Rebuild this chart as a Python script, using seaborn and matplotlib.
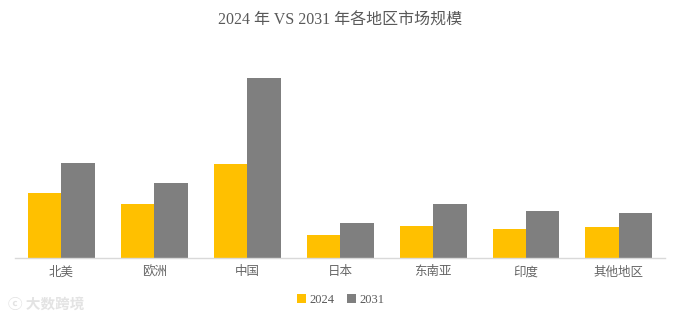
import matplotlib
matplotlib.use("Agg")
import matplotlib.pyplot as plt
import seaborn as sns
import pandas as pd
from matplotlib.patches import Patch

# Regional market size, 2024 vs 2031
regions = ["北美", "欧洲", "中国", "日本", "东南亚", "印度", "其他地区"]
size_2024 = [64.7, 54.0, 94.3, 23.0, 32.0, 28.7, 31.3]
size_2031 = [95.0, 74.7, 179.7, 34.7, 53.7, 47.3, 45.3]
years = ["2024", "2031"]
colors = {"2024": "#FFC000", "2031": "#7F7F7F"}

df = pd.DataFrame({
    "地区": regions * 2,
    "年份": [years[0]] * len(regions) + [years[1]] * len(regions),
    "规模": size_2024 + size_2031,
})

sns.set_theme(style="white")
plt.rcParams["font.family"] = ["Liberation Serif", "Noto Sans CJK SC", "DejaVu Sans"]

fig = plt.figure(figsize=(6.81, 3.22), dpi=100)
ax = fig.add_axes([0.022, 0.199, 0.955, 0.652])

sns.barplot(data=df, x="地区", y="规模", hue="年份", palette=colors,
            width=0.72, gap=0, saturation=1, linewidth=0, ax=ax, legend=False)

ax.set_ylim(0, 210)
ax.set_xlim(-0.5, len(regions) - 0.5)
ax.set_xlabel("")
ax.set_ylabel("")
ax.set_yticks([])
for side in ["top", "right", "left"]:
    ax.spines[side].set_visible(False)
ax.spines["bottom"].set_color("#D9D9D9")
ax.spines["bottom"].set_linewidth(1.0)
ax.tick_params(axis="x", length=0, pad=6, labelsize=9, labelcolor="#666666")

fig.text(0.5, 0.937, "2024 年 VS 2031 年各地区市场规模", ha="center", va="center",
         fontsize=11.5, color="#595959")

# Legend
handles = [Patch(facecolor=colors[y], edgecolor="none", label=y) for y in years]
fig.legend(handles=handles, loc="center", bbox_to_anchor=(0.5, 0.068), ncol=2,
           frameon=False, fontsize=9, handlelength=0.7, handleheight=0.7,
           handletextpad=0.3, columnspacing=1.0, labelcolor="#595959")

# Watermark
fig.text(0.012, 0.058, "ⓒ 大数跨境", ha="left", va="center", fontsize=10.5,
         color="#E3E3E3", family=["Noto Sans CJK SC", "DejaVu Sans"], fontweight="bold")

fig.savefig("out.png", dpi=100, facecolor="white")
